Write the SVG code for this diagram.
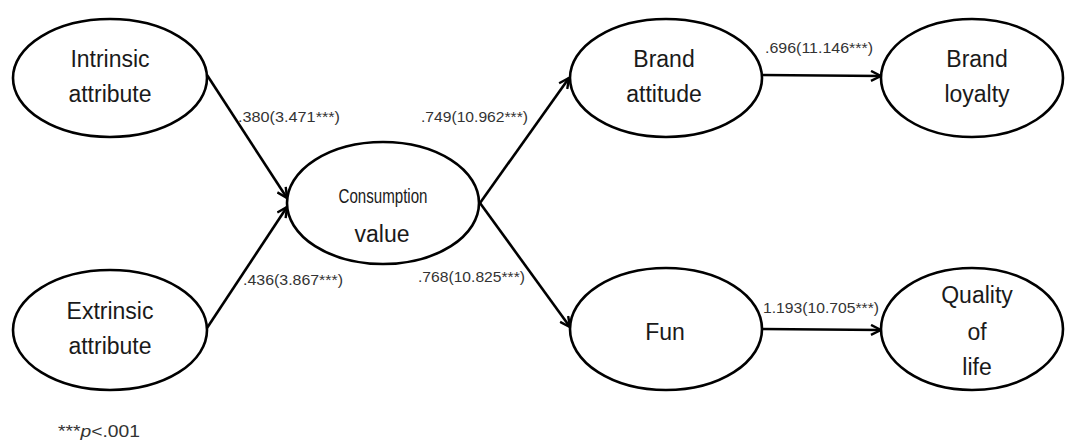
<svg xmlns="http://www.w3.org/2000/svg" width="1066" height="442" viewBox="0 0 1066 442">
<style>
.node ellipse{fill:#fff;stroke:#000;stroke-width:2.6}
.nt{font-family:"Liberation Sans",Arial,sans-serif;font-size:23px;fill:#1a1a1a;text-anchor:middle}
.el{font-family:"Liberation Sans",Arial,sans-serif;font-size:15px;fill:#333}
.conn line{stroke:#000;stroke-width:2.6;marker-end:url(#ah)}
</style>
<defs>
<marker id="ah" viewBox="0 0 12 12" refX="11" refY="6" markerWidth="12" markerHeight="12" markerUnits="userSpaceOnUse" orient="auto">
<path d="M1,1 L11,6 L1,11" fill="none" stroke="#000" stroke-width="2.4"/>
</marker>
</defs>
<rect width="1066" height="442" fill="#fff"/>
<g id="connectors" class="conn">
<line x1="207" y1="75" x2="287" y2="198"/>
<line x1="207" y1="328" x2="287" y2="207"/>
<line x1="480" y1="203" x2="569" y2="78"/>
<line x1="480" y1="203" x2="570" y2="327"/>
<line x1="762" y1="75" x2="881" y2="76"/>
<line x1="762" y1="329" x2="881" y2="330"/>
</g>
<g id="edge-labels">
<text class="el" x="238" y="122" textLength="102" lengthAdjust="spacingAndGlyphs">.380(3.471***)</text>
<text class="el" x="243" y="285" textLength="100" lengthAdjust="spacingAndGlyphs">.436(3.867***)</text>
<text class="el" x="421" y="122" textLength="107" lengthAdjust="spacingAndGlyphs">.749(10.962***)</text>
<text class="el" x="418" y="282" textLength="107" lengthAdjust="spacingAndGlyphs">.768(10.825***)</text>
<text class="el" x="765" y="53" textLength="108" lengthAdjust="spacingAndGlyphs">.696(11.146***)</text>
<text class="el" x="763" y="313" textLength="116" lengthAdjust="spacingAndGlyphs">1.193(10.705***)</text>
</g>
<g id="intrinsic" class="node">
<ellipse cx="110" cy="78" rx="97" ry="59"/>
<text class="nt" x="110" y="67">Intrinsic</text>
<text class="nt" x="110" y="102">attribute</text>
</g>
<g id="extrinsic" class="node">
<ellipse cx="110" cy="330" rx="97" ry="60"/>
<text class="nt" x="110" y="319">Extrinsic</text>
<text class="nt" x="110" y="354">attribute</text>
</g>
<g id="consumption" class="node">
<ellipse cx="383" cy="203" rx="96" ry="61"/>
<text class="nt" x="383" y="203" style="font-size:21px" textLength="89" lengthAdjust="spacingAndGlyphs">Consumption</text>
<text class="nt" x="382" y="242">value</text>
</g>
<g id="brand-attitude" class="node">
<ellipse cx="666" cy="78" rx="96" ry="59"/>
<text class="nt" x="664" y="67">Brand</text>
<text class="nt" x="664" y="102">attitude</text>
</g>
<g id="brand-loyalty" class="node">
<ellipse cx="972" cy="78" rx="91" ry="59"/>
<text class="nt" x="977" y="67">Brand</text>
<text class="nt" x="977" y="102">loyalty</text>
</g>
<g id="fun" class="node">
<ellipse cx="666" cy="329" rx="96" ry="61"/>
<text class="nt" x="665" y="340">Fun</text>
</g>
<g id="quality-of-life" class="node">
<ellipse cx="972" cy="329" rx="91" ry="61"/>
<text class="nt" x="977" y="303">Quality</text>
<text class="nt" x="977" y="340">of</text>
<text class="nt" x="977" y="375">life</text>
</g>
<g id="note">
<text class="el" x="58" y="437" style="font-size:17px" textLength="82" lengthAdjust="spacingAndGlyphs">***<tspan font-style="italic">p</tspan>&lt;.001</text>
</g>
</svg>
